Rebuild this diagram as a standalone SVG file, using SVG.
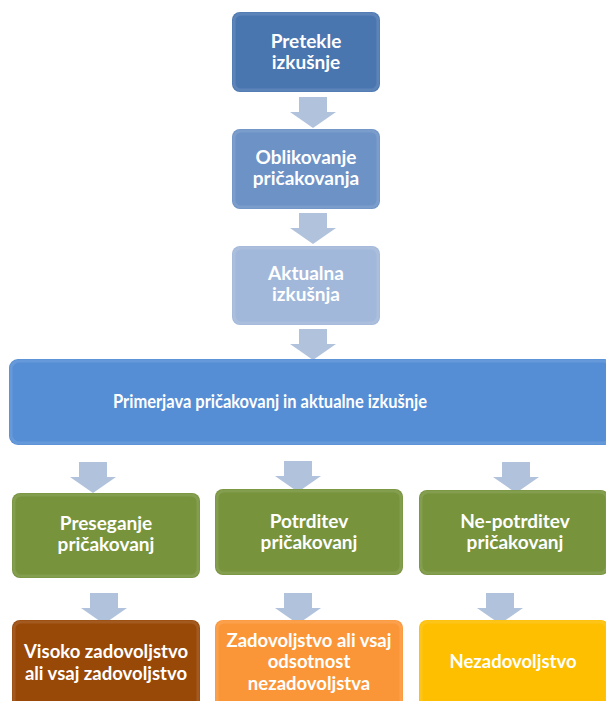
<svg xmlns="http://www.w3.org/2000/svg" width="606" height="701" viewBox="0 0 606 701">
  <style>
    .bevel { fill: none; stroke: #ffffff; stroke-opacity: 0.1; stroke-width: 3; }
    .lbl { font-family: Lato, "Open Sans", "Liberation Sans", sans-serif; font-weight: bold; fill: #ffffff; text-anchor: middle; font-size: 19px; }
    .wide { font-size: 18.5px; }
    .big { font-size: 18.5px; }
    .arrow { fill: #b1c2dd; }
  </style>
  <defs>
    <path id="arr" d="M-14,0 H14 V15 H23 L0,31 L-23,15 H-14 Z"/>
  </defs>
  <rect width="606" height="701" fill="#ffffff"/>

  <!-- connectors -->
  <g id="connectors" class="arrow">
    <use href="#arr" x="313" y="97"/>
    <use href="#arr" x="313" y="213"/>
    <use href="#arr" x="313" y="329"/>
    <use href="#arr" x="93" y="462"/>
    <use href="#arr" x="298" y="461"/>
    <use href="#arr" x="516" y="462"/>
    <use href="#arr" x="104" y="593"/>
    <use href="#arr" x="298" y="593"/>
    <use href="#arr" x="500" y="593"/>
  </g>

  <g id="n-pretekle">
    <rect x="232" y="12" width="148" height="80" rx="8" fill="#4a76b0"/>
    <rect x="234" y="14" width="144" height="76" rx="7" class="bevel"/>
    <text class="lbl" x="306" y="48">Pretekle</text>
    <text class="lbl" x="306" y="69">izkušnje</text>
  </g>

  <g id="n-oblikovanje">
    <rect x="232" y="129" width="148" height="80" rx="8" fill="#6c92c6"/>
    <rect x="234" y="131" width="144" height="76" rx="7" class="bevel"/>
    <text class="lbl" x="306" y="164">Oblikovanje</text>
    <text class="lbl" x="306" y="185">pričakovanja</text>
  </g>

  <g id="n-aktualna">
    <rect x="232" y="246" width="148" height="79" rx="8" fill="#a2b8da"/>
    <rect x="234" y="248" width="144" height="75" rx="7" class="bevel"/>
    <text class="lbl" x="306" y="280">Aktualna</text>
    <text class="lbl" x="306" y="301">izkušnja</text>
  </g>

  <g id="n-primerjava">
    <rect x="9" y="359" width="604" height="86" rx="9" fill="#558ed5"/>
    <rect x="11" y="361" width="600" height="82" rx="8" class="bevel"/>
    <text class="lbl wide" x="270" y="408" textLength="314" lengthAdjust="spacingAndGlyphs">Primerjava pričakovanj in aktualne izkušnje</text>
  </g>

  <g id="n-preseganje">
    <rect x="12" y="493" width="188" height="85" rx="8" fill="#77933c"/>
    <rect x="14" y="495" width="184" height="81" rx="7" class="bevel"/>
    <text class="lbl" x="106" y="530">Preseganje</text>
    <text class="lbl" x="106" y="551">pričakovanj</text>
  </g>

  <g id="n-potrditev">
    <rect x="215" y="489" width="188" height="86" rx="8" fill="#77933c"/>
    <rect x="217" y="491" width="184" height="82" rx="7" class="bevel"/>
    <text class="lbl" x="309" y="528">Potrditev</text>
    <text class="lbl" x="309" y="549">pričakovanj</text>
  </g>

  <g id="n-nepotrditev">
    <rect x="419" y="490" width="190" height="85" rx="8" fill="#77933c"/>
    <rect x="421" y="492" width="186" height="81" rx="7" class="bevel"/>
    <text class="lbl" x="515" y="528">Ne-potrditev</text>
    <text class="lbl" x="515" y="549">pričakovanj</text>
  </g>

  <g id="n-visoko">
    <rect x="12" y="620" width="188" height="90" rx="8" fill="#984807"/>
    <rect x="14" y="622" width="184" height="86" rx="7" class="bevel"/>
    <text class="lbl big" x="106" y="658">Visoko zadovoljstvo</text>
    <text class="lbl big" x="106" y="680">ali vsaj zadovoljstvo</text>
  </g>

  <g id="n-zadovoljstvo">
    <rect x="215" y="620" width="188" height="90" rx="8" fill="#fb9638"/>
    <rect x="217" y="622" width="184" height="86" rx="7" class="bevel"/>
    <text class="lbl big" x="309" y="647">Zadovoljstvo ali vsaj</text>
    <text class="lbl big" x="309" y="668">odsotnost</text>
    <text class="lbl big" x="309" y="690">nezadovoljstva</text>
  </g>

  <g id="n-nezadovoljstvo">
    <rect x="419" y="620" width="190" height="90" rx="8" fill="#fdbf00"/>
    <rect x="421" y="622" width="186" height="86" rx="7" class="bevel"/>
    <text class="lbl big" x="513" y="668">Nezadovoljstvo</text>
  </g>
</svg>
